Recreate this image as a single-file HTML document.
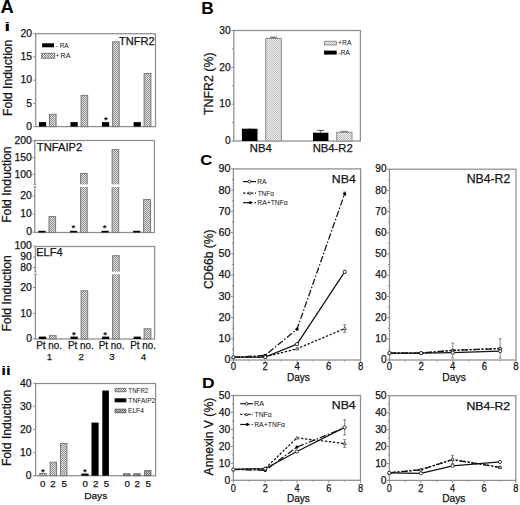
<!DOCTYPE html>
<html><head><meta charset="utf-8"><title>Figure</title>
<style>
html,body{margin:0;padding:0;background:#fff;}
body{width:520px;height:505px;overflow:hidden;}
svg{display:block;font-family:"Liberation Sans", sans-serif;}
</style></head>
<body>
<svg width="520" height="505" viewBox="0 0 520 505">
<defs>
<pattern id="pl" width="2" height="2" patternUnits="userSpaceOnUse"><rect width="2" height="2" fill="#e6e6e6"/><rect width="1" height="1" fill="#8a8a8a"/><rect x="1" y="1" width="1" height="1" fill="#8a8a8a"/></pattern>
<pattern id="pd" width="2" height="2" patternUnits="userSpaceOnUse"><rect width="2" height="2" fill="#c8c8c8"/><rect width="1" height="1" fill="#6e6e6e"/><rect x="1" y="1" width="1" height="1" fill="#6e6e6e"/></pattern>
<pattern id="pb" width="2" height="2" patternUnits="userSpaceOnUse"><rect width="2" height="2" fill="#f0f0f0"/><rect width="1" height="1" fill="#c0c0c0"/><rect x="1" y="1" width="1" height="1" fill="#c0c0c0"/></pattern>
</defs>
<rect width="520" height="505" fill="#fff"/>
<text x="0.54" y="13.2" font-size="17.73" font-weight="bold" textLength="13.24" lengthAdjust="spacingAndGlyphs" fill="#000">A</text>
<text x="4.37" y="31.1" font-size="13.39" font-weight="bold" textLength="6.07" lengthAdjust="spacingAndGlyphs" fill="#000">i</text>
<text x="1.21" y="375.2" font-size="13.66" font-weight="bold" textLength="9.51" lengthAdjust="spacingAndGlyphs" fill="#000">ii</text>
<text x="201.34" y="13.6" font-size="17.3" font-weight="bold" fill="#000">B</text>
<text x="200.22" y="165.1" font-size="14.89" font-weight="bold" textLength="12.04" lengthAdjust="spacingAndGlyphs" fill="#000">C</text>
<text x="202.03" y="388.4" font-size="15.41" font-weight="bold" textLength="12.6" lengthAdjust="spacingAndGlyphs" fill="#000">D</text>
<rect x="35.7" y="33.7" width="119.8" height="92.9" fill="none" stroke="#8e8e8e" stroke-width="1.25"/>
<text x="32.11" y="129.88" font-size="10.4" text-anchor="end" fill="#141414" stroke="#141414" stroke-width="0.25">0</text>
<line x1="33.2" y1="126.6" x2="35.7" y2="126.6" stroke="#8e8e8e" stroke-width="1"/>
<text x="32.14" y="106.6" font-size="10.4" text-anchor="end" fill="#141414" stroke="#141414" stroke-width="0.25">5</text>
<line x1="33.2" y1="103.38" x2="35.7" y2="103.38" stroke="#8e8e8e" stroke-width="1"/>
<text x="32.11" y="83.43" font-size="10.4" text-anchor="end" fill="#141414" stroke="#141414" stroke-width="0.25">10</text>
<line x1="33.2" y1="80.15" x2="35.7" y2="80.15" stroke="#8e8e8e" stroke-width="1"/>
<text x="32.14" y="60.15" font-size="10.4" text-anchor="end" fill="#141414" stroke="#141414" stroke-width="0.25">15</text>
<line x1="33.2" y1="56.92" x2="35.7" y2="56.92" stroke="#8e8e8e" stroke-width="1"/>
<text x="32.11" y="36.98" font-size="10.4" text-anchor="end" fill="#141414" stroke="#141414" stroke-width="0.25">20</text>
<line x1="33.2" y1="33.7" x2="35.7" y2="33.7" stroke="#8e8e8e" stroke-width="1"/>
<rect x="38.9" y="122.1" width="7.3" height="4.5" fill="#000"/>
<rect x="70.5" y="122.1" width="7.2" height="4.5" fill="#000"/>
<rect x="102" y="122.1" width="7.2" height="4.5" fill="#000"/>
<rect x="133.6" y="122.1" width="7.2" height="4.5" fill="#000"/>
<rect x="49.5" y="114.3" width="6.6" height="12.3" fill="url(#pl)" stroke="#7a7a7a" stroke-width="1"/>
<rect x="81.1" y="95.4" width="6.6" height="31.2" fill="url(#pl)" stroke="#7a7a7a" stroke-width="1"/>
<rect x="112.6" y="41.8" width="6.6" height="84.8" fill="url(#pl)" stroke="#7a7a7a" stroke-width="1"/>
<rect x="144.1" y="73.5" width="6.8" height="53.1" fill="url(#pl)" stroke="#7a7a7a" stroke-width="1"/>
<text x="105.8" y="123.26" font-size="9.5" text-anchor="middle" font-weight="bold" fill="#111">*</text>
<rect x="42.1" y="43.3" width="11.9" height="4" fill="#000"/>
<rect x="41.7" y="53.3" width="13" height="4.9" fill="url(#pl)" stroke="#7a7a7a" stroke-width="1"/>
<text x="55.69" y="47.5" font-size="6.9" textLength="2.32" lengthAdjust="spacingAndGlyphs" fill="#141414">-</text>
<text x="59.67" y="47.5" font-size="6.98" textLength="9.05" lengthAdjust="spacingAndGlyphs" fill="#141414">RA</text>
<text x="55.94" y="58.2" font-size="6.9" textLength="3.13" lengthAdjust="spacingAndGlyphs" fill="#141414">+</text>
<text x="60.61" y="58.2" font-size="7.12" textLength="10" lengthAdjust="spacingAndGlyphs" fill="#141414">RA</text>
<text x="118.95" y="44.5" font-size="11.6" textLength="35.6" lengthAdjust="spacingAndGlyphs" fill="#141414" stroke="#141414" stroke-width="0.25">TNFR2</text>
<text x="11.5" y="116" font-size="12.2" textLength="76.39" lengthAdjust="spacingAndGlyphs" transform="rotate(-90 11.5 116)" fill="#141414" stroke="#141414" stroke-width="0.25">Fold Induction</text>
<rect x="34.8" y="140.5" width="119.6" height="92" fill="none" stroke="#8e8e8e" stroke-width="1.25"/>
<rect x="33.3" y="184.5" width="3" height="2" fill="#fff"/>
<line x1="33.3" y1="184.3" x2="36.3" y2="184.3" stroke="#8e8e8e" stroke-width="1"/>
<line x1="33.3" y1="186.7" x2="36.3" y2="186.7" stroke="#8e8e8e" stroke-width="1"/>
<text x="31.91" y="144.18" font-size="10.4" text-anchor="end" fill="#141414" stroke="#141414" stroke-width="0.25">200</text>
<line x1="32.3" y1="140.9" x2="34.8" y2="140.9" stroke="#8e8e8e" stroke-width="1"/>
<text x="31.91" y="161.08" font-size="10.4" text-anchor="end" fill="#141414" stroke="#141414" stroke-width="0.25">150</text>
<line x1="32.3" y1="157.8" x2="34.8" y2="157.8" stroke="#8e8e8e" stroke-width="1"/>
<text x="31.91" y="177.58" font-size="10.4" text-anchor="end" fill="#141414" stroke="#141414" stroke-width="0.25">100</text>
<line x1="32.3" y1="174.3" x2="34.8" y2="174.3" stroke="#8e8e8e" stroke-width="1"/>
<text x="31.91" y="199.28" font-size="10.4" text-anchor="end" fill="#141414" stroke="#141414" stroke-width="0.25">20</text>
<line x1="32.3" y1="196" x2="34.8" y2="196" stroke="#8e8e8e" stroke-width="1"/>
<text x="31.91" y="217.38" font-size="10.4" text-anchor="end" fill="#141414" stroke="#141414" stroke-width="0.25">10</text>
<line x1="32.3" y1="214.1" x2="34.8" y2="214.1" stroke="#8e8e8e" stroke-width="1"/>
<text x="31.91" y="235.48" font-size="10.4" text-anchor="end" fill="#141414" stroke="#141414" stroke-width="0.25">0</text>
<line x1="32.3" y1="232.2" x2="34.8" y2="232.2" stroke="#8e8e8e" stroke-width="1"/>
<rect x="38.4" y="230.8" width="7.3" height="1.7" fill="#000"/>
<rect x="70" y="230.8" width="7.2" height="1.7" fill="#000"/>
<rect x="101.5" y="230.8" width="7.2" height="1.7" fill="#000"/>
<rect x="133.1" y="230.8" width="7.2" height="1.7" fill="#000"/>
<rect x="49" y="216.5" width="6.6" height="16" fill="url(#pl)" stroke="#7a7a7a" stroke-width="1"/>
<rect x="80.6" y="173.5" width="6.6" height="59" fill="url(#pl)" stroke="#7a7a7a" stroke-width="1"/>
<rect x="112.1" y="149.6" width="6.6" height="82.9" fill="url(#pl)" stroke="#7a7a7a" stroke-width="1"/>
<rect x="143.6" y="199.5" width="6.8" height="33" fill="url(#pl)" stroke="#7a7a7a" stroke-width="1"/>
<rect x="79.1" y="184.4" width="10.1" height="2.5" fill="#fff"/>
<rect x="110.6" y="184.4" width="10.1" height="2.5" fill="#fff"/>
<text x="73.4" y="231.46" font-size="9.5" text-anchor="middle" font-weight="bold" fill="#111">*</text>
<text x="104.7" y="231.46" font-size="9.5" text-anchor="middle" font-weight="bold" fill="#111">*</text>
<text x="36.85" y="150.6" font-size="10.74" textLength="45.3" lengthAdjust="spacingAndGlyphs" fill="#141414" stroke="#141414" stroke-width="0.25">TNFAIP2</text>
<text x="11.4" y="222.8" font-size="12.2" textLength="76.39" lengthAdjust="spacingAndGlyphs" transform="rotate(-90 11.4 222.8)" fill="#141414" stroke="#141414" stroke-width="0.25">Fold Induction</text>
<rect x="35.4" y="246.5" width="119.2" height="92.5" fill="none" stroke="#8e8e8e" stroke-width="1.25"/>
<rect x="33.9" y="272.1" width="3" height="2" fill="#fff"/>
<line x1="33.9" y1="271.9" x2="36.9" y2="271.9" stroke="#8e8e8e" stroke-width="1"/>
<line x1="33.9" y1="274.3" x2="36.9" y2="274.3" stroke="#8e8e8e" stroke-width="1"/>
<text x="31.91" y="249.28" font-size="10.4" text-anchor="end" fill="#141414" stroke="#141414" stroke-width="0.25">100</text>
<line x1="32.9" y1="246" x2="35.4" y2="246" stroke="#8e8e8e" stroke-width="1"/>
<text x="31.91" y="260.38" font-size="10.4" text-anchor="end" fill="#141414" stroke="#141414" stroke-width="0.25">90</text>
<line x1="32.9" y1="257.1" x2="35.4" y2="257.1" stroke="#8e8e8e" stroke-width="1"/>
<text x="31.91" y="270.78" font-size="10.4" text-anchor="end" fill="#141414" stroke="#141414" stroke-width="0.25">80</text>
<line x1="32.9" y1="267.5" x2="35.4" y2="267.5" stroke="#8e8e8e" stroke-width="1"/>
<text x="31.91" y="290.78" font-size="10.4" text-anchor="end" fill="#141414" stroke="#141414" stroke-width="0.25">20</text>
<line x1="32.9" y1="287.5" x2="35.4" y2="287.5" stroke="#8e8e8e" stroke-width="1"/>
<text x="31.91" y="316.68" font-size="10.4" text-anchor="end" fill="#141414" stroke="#141414" stroke-width="0.25">10</text>
<line x1="32.9" y1="313.4" x2="35.4" y2="313.4" stroke="#8e8e8e" stroke-width="1"/>
<text x="31.91" y="342.08" font-size="10.4" text-anchor="end" fill="#141414" stroke="#141414" stroke-width="0.25">0</text>
<line x1="32.9" y1="338.8" x2="35.4" y2="338.8" stroke="#8e8e8e" stroke-width="1"/>
<rect x="38.9" y="336.6" width="7.3" height="2.4" fill="#000"/>
<rect x="70.5" y="336.6" width="7.2" height="2.4" fill="#000"/>
<rect x="102" y="336.6" width="7.2" height="2.4" fill="#000"/>
<rect x="133.6" y="336.6" width="7.2" height="2.4" fill="#000"/>
<rect x="49.5" y="335.6" width="6.6" height="3.4" fill="url(#pl)" stroke="#7a7a7a" stroke-width="1"/>
<rect x="81.1" y="290.8" width="6.6" height="48.2" fill="url(#pl)" stroke="#7a7a7a" stroke-width="1"/>
<rect x="112.6" y="255.7" width="6.6" height="83.3" fill="url(#pl)" stroke="#7a7a7a" stroke-width="1"/>
<rect x="144.1" y="328.8" width="6.8" height="10.2" fill="url(#pl)" stroke="#7a7a7a" stroke-width="1"/>
<rect x="111.1" y="271.6" width="9.6" height="2.7" fill="#fff"/>
<text x="73.9" y="337.56" font-size="9.5" text-anchor="middle" font-weight="bold" fill="#111">*</text>
<text x="105.2" y="337.56" font-size="9.5" text-anchor="middle" font-weight="bold" fill="#111">*</text>
<text x="36.19" y="255.7" font-size="10.76" textLength="26.43" lengthAdjust="spacingAndGlyphs" fill="#141414" stroke="#141414" stroke-width="0.25">ELF4</text>
<text x="11.1" y="331.6" font-size="12.2" textLength="76.39" lengthAdjust="spacingAndGlyphs" transform="rotate(-90 11.1 331.6)" fill="#141414" stroke="#141414" stroke-width="0.25">Fold Induction</text>
<text x="36.29" y="349" font-size="10.17" textLength="25.71" lengthAdjust="spacingAndGlyphs" fill="#141414" stroke="#141414" stroke-width="0.25">Pt no.</text>
<text x="49.37" y="360" font-size="9.7" text-anchor="middle" fill="#141414" stroke="#141414" stroke-width="0.25">1</text>
<text x="67.99" y="349" font-size="10.17" textLength="25.71" lengthAdjust="spacingAndGlyphs" fill="#141414" stroke="#141414" stroke-width="0.25">Pt no.</text>
<text x="81.2" y="360" font-size="9.7" text-anchor="middle" fill="#141414" stroke="#141414" stroke-width="0.25">2</text>
<text x="98.79" y="349" font-size="10.17" textLength="25.71" lengthAdjust="spacingAndGlyphs" fill="#141414" stroke="#141414" stroke-width="0.25">Pt no.</text>
<text x="112.03" y="360" font-size="9.7" text-anchor="middle" fill="#141414" stroke="#141414" stroke-width="0.25">3</text>
<text x="130.29" y="349" font-size="10.17" textLength="25.71" lengthAdjust="spacingAndGlyphs" fill="#141414" stroke="#141414" stroke-width="0.25">Pt no.</text>
<text x="143.53" y="360" font-size="9.7" text-anchor="middle" fill="#141414" stroke="#141414" stroke-width="0.25">4</text>
<rect x="35.6" y="383.5" width="120" height="92.2" fill="none" stroke="#8e8e8e" stroke-width="1.25"/>
<text x="31.61" y="478.98" font-size="10.4" text-anchor="end" fill="#141414" stroke="#141414" stroke-width="0.25">0</text>
<line x1="33.1" y1="475.7" x2="35.6" y2="475.7" stroke="#8e8e8e" stroke-width="1"/>
<text x="31.61" y="455.88" font-size="10.4" text-anchor="end" fill="#141414" stroke="#141414" stroke-width="0.25">10</text>
<line x1="33.1" y1="452.6" x2="35.6" y2="452.6" stroke="#8e8e8e" stroke-width="1"/>
<text x="31.61" y="432.78" font-size="10.4" text-anchor="end" fill="#141414" stroke="#141414" stroke-width="0.25">20</text>
<line x1="33.1" y1="429.5" x2="35.6" y2="429.5" stroke="#8e8e8e" stroke-width="1"/>
<text x="31.61" y="409.68" font-size="10.4" text-anchor="end" fill="#141414" stroke="#141414" stroke-width="0.25">30</text>
<line x1="33.1" y1="406.4" x2="35.6" y2="406.4" stroke="#8e8e8e" stroke-width="1"/>
<text x="31.61" y="386.58" font-size="10.4" text-anchor="end" fill="#141414" stroke="#141414" stroke-width="0.25">40</text>
<line x1="33.1" y1="383.3" x2="35.6" y2="383.3" stroke="#8e8e8e" stroke-width="1"/>
<rect x="39.8" y="473.5" width="6.5" height="2.2" fill="url(#pl)" stroke="#7a7a7a" stroke-width="1"/>
<rect x="50.1" y="462.2" width="6.4" height="13.5" fill="url(#pl)" stroke="#7a7a7a" stroke-width="1"/>
<rect x="60.5" y="443.5" width="6.4" height="32.2" fill="url(#pl)" stroke="#7a7a7a" stroke-width="1"/>
<rect x="81.3" y="473.6" width="7.3" height="2.1" fill="#000"/>
<rect x="91.5" y="422.6" width="7.1" height="53.1" fill="#000"/>
<rect x="102.3" y="390.5" width="6.6" height="85.2" fill="#000"/>
<rect x="123.6" y="473.8" width="6.4" height="1.9" fill="url(#pd)" stroke="#606060" stroke-width="1"/>
<rect x="133.7" y="473.8" width="6.4" height="1.9" fill="url(#pd)" stroke="#606060" stroke-width="1"/>
<rect x="144.7" y="470.7" width="6.2" height="5" fill="url(#pd)" stroke="#606060" stroke-width="1"/>
<text x="42.9" y="475.16" font-size="9.5" text-anchor="middle" font-weight="bold" fill="#111">*</text>
<text x="84.9" y="475.16" font-size="9.5" text-anchor="middle" font-weight="bold" fill="#111">*</text>
<text x="42.8" y="486.9" font-size="9.7" text-anchor="middle" fill="#141414" stroke="#141414" stroke-width="0.25">0</text>
<text x="53" y="486.9" font-size="9.7" text-anchor="middle" fill="#141414" stroke="#141414" stroke-width="0.25">2</text>
<text x="64.21" y="486.9" font-size="9.7" text-anchor="middle" fill="#141414" stroke="#141414" stroke-width="0.25">5</text>
<text x="85.1" y="486.9" font-size="9.7" text-anchor="middle" fill="#141414" stroke="#141414" stroke-width="0.25">0</text>
<text x="95.6" y="486.9" font-size="9.7" text-anchor="middle" fill="#141414" stroke="#141414" stroke-width="0.25">2</text>
<text x="106.51" y="486.9" font-size="9.7" text-anchor="middle" fill="#141414" stroke="#141414" stroke-width="0.25">5</text>
<text x="127.3" y="486.9" font-size="9.7" text-anchor="middle" fill="#141414" stroke="#141414" stroke-width="0.25">0</text>
<text x="137.1" y="486.9" font-size="9.7" text-anchor="middle" fill="#141414" stroke="#141414" stroke-width="0.25">2</text>
<text x="148.21" y="486.9" font-size="9.7" text-anchor="middle" fill="#141414" stroke="#141414" stroke-width="0.25">5</text>
<text x="84.17" y="498.8" font-size="9.88" textLength="23.1" lengthAdjust="spacingAndGlyphs" fill="#141414" stroke="#141414" stroke-width="0.25">Days</text>
<rect x="115.1" y="388.4" width="10.7" height="3.3" fill="url(#pl)" stroke="#7a7a7a" stroke-width="1"/>
<rect x="114.6" y="398.3" width="11.7" height="4" fill="#000"/>
<rect x="115.1" y="409.2" width="10.7" height="3.5" fill="url(#pd)" stroke="#606060" stroke-width="1"/>
<text x="128.36" y="392.6" font-size="6.87" textLength="19.95" lengthAdjust="spacingAndGlyphs" fill="#141414">TNFR2</text>
<text x="128.35" y="402.9" font-size="6.87" textLength="26.98" lengthAdjust="spacingAndGlyphs" fill="#141414">TNFAIP2</text>
<text x="127.95" y="413.2" font-size="6.83" textLength="15.94" lengthAdjust="spacingAndGlyphs" fill="#141414">ELF4</text>
<text x="11.1" y="466.1" font-size="12.2" textLength="76.39" lengthAdjust="spacingAndGlyphs" transform="rotate(-90 11.1 466.1)" fill="#141414" stroke="#141414" stroke-width="0.25">Fold Induction</text>
<rect x="233.8" y="30.5" width="126.6" height="110.5" fill="none" stroke="#8e8e8e" stroke-width="1.25"/>
<text x="230.6" y="144.21" font-size="10.2" text-anchor="end" fill="#141414" stroke="#141414" stroke-width="0.25">0</text>
<line x1="231.3" y1="141" x2="233.8" y2="141" stroke="#8e8e8e" stroke-width="1"/>
<text x="230.6" y="107.38" font-size="10.2" text-anchor="end" fill="#141414" stroke="#141414" stroke-width="0.25">10</text>
<line x1="231.3" y1="104.17" x2="233.8" y2="104.17" stroke="#8e8e8e" stroke-width="1"/>
<text x="230.6" y="70.54" font-size="10.2" text-anchor="end" fill="#141414" stroke="#141414" stroke-width="0.25">20</text>
<line x1="231.3" y1="67.33" x2="233.8" y2="67.33" stroke="#8e8e8e" stroke-width="1"/>
<text x="230.6" y="33.71" font-size="10.2" text-anchor="end" fill="#141414" stroke="#141414" stroke-width="0.25">30</text>
<line x1="231.3" y1="30.5" x2="233.8" y2="30.5" stroke="#8e8e8e" stroke-width="1"/>
<line x1="232" y1="122.58" x2="233.8" y2="122.58" stroke="#8e8e8e" stroke-width="1"/>
<line x1="232" y1="85.75" x2="233.8" y2="85.75" stroke="#8e8e8e" stroke-width="1"/>
<line x1="232" y1="48.92" x2="233.8" y2="48.92" stroke="#8e8e8e" stroke-width="1"/>
<rect x="241.9" y="128.7" width="15.6" height="12.3" fill="#000"/>
<line x1="249.7" y1="127.9" x2="249.7" y2="128.8" stroke="#222" stroke-width="1"/>
<rect x="265.7" y="38.5" width="15.7" height="102.5" fill="url(#pb)" stroke="#8c8c8c" stroke-width="1"/>
<line x1="270" y1="37.2" x2="277.4" y2="37.2" stroke="#555" stroke-width="1"/>
<line x1="273.7" y1="37.2" x2="273.7" y2="38.6" stroke="#555" stroke-width="1"/>
<rect x="313" y="132.7" width="15.4" height="8.3" fill="#000"/>
<line x1="320.7" y1="130.4" x2="320.7" y2="132.8" stroke="#555" stroke-width="1"/>
<line x1="317.4" y1="130.4" x2="324" y2="130.4" stroke="#555" stroke-width="1"/>
<rect x="336.7" y="132.4" width="15.3" height="8.6" fill="url(#pb)" stroke="#8c8c8c" stroke-width="1"/>
<line x1="340.5" y1="131.4" x2="348.2" y2="131.4" stroke="#777" stroke-width="1"/>
<rect x="324.5" y="41.3" width="11.8" height="3.6" fill="url(#pb)" stroke="#8c8c8c" stroke-width="1"/>
<rect x="324" y="50.6" width="12.7" height="4" fill="#000"/>
<text x="338.07" y="45.4" font-size="6.98" textLength="13.34" lengthAdjust="spacingAndGlyphs" fill="#141414">+RA</text>
<text x="338.09" y="55.1" font-size="6.98" textLength="11.92" lengthAdjust="spacingAndGlyphs" fill="#141414">-RA</text>
<text x="249.87" y="151.8" font-size="11.63" textLength="21.96" lengthAdjust="spacingAndGlyphs" fill="#141414" stroke="#141414" stroke-width="0.25">NB4</text>
<text x="312.68" y="151.5" font-size="10.74" textLength="40.09" lengthAdjust="spacingAndGlyphs" fill="#141414" stroke="#141414" stroke-width="0.25">NB4-R2</text>
<text x="212.6" y="115.08" font-size="12.2" textLength="62.65" lengthAdjust="spacingAndGlyphs" transform="rotate(-90 212.6 115.08)" fill="#141414" stroke="#141414" stroke-width="0.25">TNFR2 (%)</text>
<rect x="233.4" y="168.9" width="127.2" height="191.1" fill="none" stroke="#8e8e8e" stroke-width="1.25"/>
<text x="230.42" y="363.42" font-size="10.8" text-anchor="end" fill="#141414" stroke="#141414" stroke-width="0.25">0</text>
<line x1="230.9" y1="360" x2="233.4" y2="360" stroke="#8e8e8e" stroke-width="1"/>
<text x="230.42" y="342.18" font-size="10.8" text-anchor="end" fill="#141414" stroke="#141414" stroke-width="0.25">10</text>
<line x1="230.9" y1="338.77" x2="233.4" y2="338.77" stroke="#8e8e8e" stroke-width="1"/>
<text x="230.42" y="320.95" font-size="10.8" text-anchor="end" fill="#141414" stroke="#141414" stroke-width="0.25">20</text>
<line x1="230.9" y1="317.53" x2="233.4" y2="317.53" stroke="#8e8e8e" stroke-width="1"/>
<text x="230.42" y="299.72" font-size="10.8" text-anchor="end" fill="#141414" stroke="#141414" stroke-width="0.25">30</text>
<line x1="230.9" y1="296.3" x2="233.4" y2="296.3" stroke="#8e8e8e" stroke-width="1"/>
<text x="230.42" y="278.48" font-size="10.8" text-anchor="end" fill="#141414" stroke="#141414" stroke-width="0.25">40</text>
<line x1="230.9" y1="275.07" x2="233.4" y2="275.07" stroke="#8e8e8e" stroke-width="1"/>
<text x="230.42" y="257.25" font-size="10.8" text-anchor="end" fill="#141414" stroke="#141414" stroke-width="0.25">50</text>
<line x1="230.9" y1="253.83" x2="233.4" y2="253.83" stroke="#8e8e8e" stroke-width="1"/>
<text x="230.42" y="236.02" font-size="10.8" text-anchor="end" fill="#141414" stroke="#141414" stroke-width="0.25">60</text>
<line x1="230.9" y1="232.6" x2="233.4" y2="232.6" stroke="#8e8e8e" stroke-width="1"/>
<text x="230.42" y="214.78" font-size="10.8" text-anchor="end" fill="#141414" stroke="#141414" stroke-width="0.25">70</text>
<line x1="230.9" y1="211.37" x2="233.4" y2="211.37" stroke="#8e8e8e" stroke-width="1"/>
<text x="230.42" y="193.55" font-size="10.8" text-anchor="end" fill="#141414" stroke="#141414" stroke-width="0.25">80</text>
<line x1="230.9" y1="190.13" x2="233.4" y2="190.13" stroke="#8e8e8e" stroke-width="1"/>
<text x="230.42" y="172.32" font-size="10.8" text-anchor="end" fill="#141414" stroke="#141414" stroke-width="0.25">90</text>
<line x1="230.9" y1="168.9" x2="233.4" y2="168.9" stroke="#8e8e8e" stroke-width="1"/>
<line x1="231.9" y1="349.38" x2="233.4" y2="349.38" stroke="#8e8e8e" stroke-width="1"/>
<line x1="231.9" y1="328.15" x2="233.4" y2="328.15" stroke="#8e8e8e" stroke-width="1"/>
<line x1="231.9" y1="306.92" x2="233.4" y2="306.92" stroke="#8e8e8e" stroke-width="1"/>
<line x1="231.9" y1="285.68" x2="233.4" y2="285.68" stroke="#8e8e8e" stroke-width="1"/>
<line x1="231.9" y1="264.45" x2="233.4" y2="264.45" stroke="#8e8e8e" stroke-width="1"/>
<line x1="231.9" y1="243.22" x2="233.4" y2="243.22" stroke="#8e8e8e" stroke-width="1"/>
<line x1="231.9" y1="221.98" x2="233.4" y2="221.98" stroke="#8e8e8e" stroke-width="1"/>
<line x1="231.9" y1="200.75" x2="233.4" y2="200.75" stroke="#8e8e8e" stroke-width="1"/>
<line x1="231.9" y1="179.52" x2="233.4" y2="179.52" stroke="#8e8e8e" stroke-width="1"/>
<line x1="233.4" y1="360" x2="233.4" y2="362.5" stroke="#8e8e8e" stroke-width="1"/>
<text x="230.75" y="370.1" font-size="10.7" textLength="5.3" lengthAdjust="spacingAndGlyphs" fill="#141414" stroke="#141414" stroke-width="0.25">0</text>
<line x1="249.3" y1="360" x2="249.3" y2="361.5" stroke="#8e8e8e" stroke-width="1"/>
<line x1="265.2" y1="360" x2="265.2" y2="362.5" stroke="#8e8e8e" stroke-width="1"/>
<text x="262.55" y="370.1" font-size="10.7" textLength="5.3" lengthAdjust="spacingAndGlyphs" fill="#141414" stroke="#141414" stroke-width="0.25">2</text>
<line x1="281.1" y1="360" x2="281.1" y2="361.5" stroke="#8e8e8e" stroke-width="1"/>
<line x1="297" y1="360" x2="297" y2="362.5" stroke="#8e8e8e" stroke-width="1"/>
<text x="294.38" y="370.1" font-size="10.7" textLength="5.3" lengthAdjust="spacingAndGlyphs" fill="#141414" stroke="#141414" stroke-width="0.25">4</text>
<line x1="312.9" y1="360" x2="312.9" y2="361.5" stroke="#8e8e8e" stroke-width="1"/>
<line x1="328.8" y1="360" x2="328.8" y2="362.5" stroke="#8e8e8e" stroke-width="1"/>
<text x="326.12" y="370.1" font-size="10.7" textLength="5.3" lengthAdjust="spacingAndGlyphs" fill="#141414" stroke="#141414" stroke-width="0.25">6</text>
<line x1="344.7" y1="360" x2="344.7" y2="361.5" stroke="#8e8e8e" stroke-width="1"/>
<line x1="360.6" y1="360" x2="360.6" y2="362.5" stroke="#8e8e8e" stroke-width="1"/>
<text x="357.95" y="370.1" font-size="10.7" textLength="5.3" lengthAdjust="spacingAndGlyphs" fill="#141414" stroke="#141414" stroke-width="0.25">8</text>
<polyline points="233.4,357.24 265.2,355.33 297,329.21 344.7,193.74" fill="none" stroke="#111" stroke-width="1.25" stroke-linejoin="round" stroke-dasharray="6.5,2,1.5,2"/>
<line x1="344.7" y1="192.04" x2="344.7" y2="195.44" stroke="#666" stroke-width="0.8"/>
<line x1="343.2" y1="192.04" x2="346.2" y2="192.04" stroke="#666" stroke-width="0.8"/>
<line x1="343.2" y1="195.44" x2="346.2" y2="195.44" stroke="#666" stroke-width="0.8"/>
<circle cx="233.4" cy="357.24" r="1.6" fill="#000"/>
<circle cx="265.2" cy="355.33" r="1.6" fill="#000"/>
<circle cx="297" cy="329.21" r="1.6" fill="#000"/>
<circle cx="344.7" cy="193.74" r="1.6" fill="#000"/>
<polyline points="233.4,357.24 265.2,356.81 297,348.75 344.7,328.57" fill="none" stroke="#111" stroke-width="1.25" stroke-linejoin="round" stroke-dasharray="2.4,1.6"/>
<line x1="344.7" y1="324.75" x2="344.7" y2="332.4" stroke="#666" stroke-width="0.8"/>
<line x1="343.2" y1="324.75" x2="346.2" y2="324.75" stroke="#666" stroke-width="0.8"/>
<line x1="343.2" y1="332.4" x2="346.2" y2="332.4" stroke="#666" stroke-width="0.8"/>
<path d="M231.8,358.44 L233.4,355.64 L235,358.44 Z" fill="#fff" stroke="#333" stroke-width="0.8"/>
<path d="M263.6,358.01 L265.2,355.21 L266.8,358.01 Z" fill="#fff" stroke="#333" stroke-width="0.8"/>
<path d="M295.4,349.95 L297,347.15 L298.6,349.95 Z" fill="#fff" stroke="#333" stroke-width="0.8"/>
<path d="M343.1,329.77 L344.7,326.97 L346.3,329.77 Z" fill="#fff" stroke="#333" stroke-width="0.8"/>
<polyline points="233.4,357.24 265.2,357.03 297,344.07 344.7,271.88" fill="none" stroke="#111" stroke-width="1.25" stroke-linejoin="round"/>
<line x1="344.7" y1="270.18" x2="344.7" y2="273.58" stroke="#666" stroke-width="0.8"/>
<line x1="343.2" y1="270.18" x2="346.2" y2="270.18" stroke="#666" stroke-width="0.8"/>
<line x1="343.2" y1="273.58" x2="346.2" y2="273.58" stroke="#666" stroke-width="0.8"/>
<circle cx="233.4" cy="357.24" r="1.6" fill="#fff" stroke="#222" stroke-width="0.9"/>
<circle cx="265.2" cy="357.03" r="1.6" fill="#fff" stroke="#222" stroke-width="0.9"/>
<circle cx="297" cy="344.07" r="1.6" fill="#fff" stroke="#222" stroke-width="0.9"/>
<circle cx="344.7" cy="271.88" r="1.6" fill="#fff" stroke="#222" stroke-width="0.9"/>
<text x="331.89" y="182.6" font-size="11.63" textLength="23.87" lengthAdjust="spacingAndGlyphs" fill="#141414" stroke="#141414" stroke-width="0.25">NB4</text>
<text x="286.98" y="380.5" font-size="10.47" textLength="22.78" lengthAdjust="spacingAndGlyphs" fill="#141414" stroke="#141414" stroke-width="0.25">Days</text>
<line x1="243" y1="181.6" x2="256" y2="181.6" stroke="#111" stroke-width="1.2"/>
<circle cx="249.5" cy="181.6" r="1.4" fill="#fff" stroke="#222" stroke-width="0.9"/>
<text x="257.25" y="183.9" font-size="6.9" textLength="9.37" lengthAdjust="spacingAndGlyphs" fill="#141414">RA</text>
<line x1="243" y1="193.1" x2="256" y2="193.1" stroke="#111" stroke-width="1.2" stroke-dasharray="2.4,1.6"/>
<path d="M248.1,194.15 L249.5,191.7 L250.9,194.15 Z" fill="#fff" stroke="#333" stroke-width="0.8"/>
<text x="257.65" y="195.8" font-size="6.9" textLength="16.33" lengthAdjust="spacingAndGlyphs" fill="#141414">TNF&#945;</text>
<line x1="243" y1="202.7" x2="252.5" y2="202.7" stroke="#111" stroke-width="1.2"/>
<line x1="254.5" y1="202.7" x2="256" y2="202.7" stroke="#111" stroke-width="1.2"/>
<circle cx="250.3" cy="202.7" r="1.4" fill="#000"/>
<text x="257.24" y="204.9" font-size="6.9" textLength="30.55" lengthAdjust="spacingAndGlyphs" fill="#141414">RA+TNF&#945;</text>
<text x="212.6" y="289.11" font-size="12.2" textLength="59.76" lengthAdjust="spacingAndGlyphs" transform="rotate(-90 212.6 289.11)" fill="#141414" stroke="#141414" stroke-width="0.25">CD66b (%)</text>
<rect x="389.5" y="169.2" width="126.5" height="190.8" fill="none" stroke="#8e8e8e" stroke-width="1.25"/>
<text x="386.59" y="363.18" font-size="10.1" text-anchor="end" fill="#141414" stroke="#141414" stroke-width="0.25">0</text>
<line x1="387" y1="360" x2="389.5" y2="360" stroke="#8e8e8e" stroke-width="1"/>
<text x="386.59" y="341.98" font-size="10.1" text-anchor="end" fill="#141414" stroke="#141414" stroke-width="0.25">10</text>
<line x1="387" y1="338.8" x2="389.5" y2="338.8" stroke="#8e8e8e" stroke-width="1"/>
<text x="386.59" y="320.78" font-size="10.1" text-anchor="end" fill="#141414" stroke="#141414" stroke-width="0.25">20</text>
<line x1="387" y1="317.6" x2="389.5" y2="317.6" stroke="#8e8e8e" stroke-width="1"/>
<text x="386.59" y="299.58" font-size="10.1" text-anchor="end" fill="#141414" stroke="#141414" stroke-width="0.25">30</text>
<line x1="387" y1="296.4" x2="389.5" y2="296.4" stroke="#8e8e8e" stroke-width="1"/>
<text x="386.59" y="278.38" font-size="10.1" text-anchor="end" fill="#141414" stroke="#141414" stroke-width="0.25">40</text>
<line x1="387" y1="275.2" x2="389.5" y2="275.2" stroke="#8e8e8e" stroke-width="1"/>
<text x="386.59" y="257.18" font-size="10.1" text-anchor="end" fill="#141414" stroke="#141414" stroke-width="0.25">50</text>
<line x1="387" y1="254" x2="389.5" y2="254" stroke="#8e8e8e" stroke-width="1"/>
<text x="386.59" y="235.98" font-size="10.1" text-anchor="end" fill="#141414" stroke="#141414" stroke-width="0.25">60</text>
<line x1="387" y1="232.8" x2="389.5" y2="232.8" stroke="#8e8e8e" stroke-width="1"/>
<text x="386.59" y="214.78" font-size="10.1" text-anchor="end" fill="#141414" stroke="#141414" stroke-width="0.25">70</text>
<line x1="387" y1="211.6" x2="389.5" y2="211.6" stroke="#8e8e8e" stroke-width="1"/>
<text x="386.59" y="193.58" font-size="10.1" text-anchor="end" fill="#141414" stroke="#141414" stroke-width="0.25">80</text>
<line x1="387" y1="190.4" x2="389.5" y2="190.4" stroke="#8e8e8e" stroke-width="1"/>
<text x="386.59" y="172.38" font-size="10.1" text-anchor="end" fill="#141414" stroke="#141414" stroke-width="0.25">90</text>
<line x1="387" y1="169.2" x2="389.5" y2="169.2" stroke="#8e8e8e" stroke-width="1"/>
<line x1="388" y1="349.4" x2="389.5" y2="349.4" stroke="#8e8e8e" stroke-width="1"/>
<line x1="388" y1="328.2" x2="389.5" y2="328.2" stroke="#8e8e8e" stroke-width="1"/>
<line x1="388" y1="307" x2="389.5" y2="307" stroke="#8e8e8e" stroke-width="1"/>
<line x1="388" y1="285.8" x2="389.5" y2="285.8" stroke="#8e8e8e" stroke-width="1"/>
<line x1="388" y1="264.6" x2="389.5" y2="264.6" stroke="#8e8e8e" stroke-width="1"/>
<line x1="388" y1="243.4" x2="389.5" y2="243.4" stroke="#8e8e8e" stroke-width="1"/>
<line x1="388" y1="222.2" x2="389.5" y2="222.2" stroke="#8e8e8e" stroke-width="1"/>
<line x1="388" y1="201" x2="389.5" y2="201" stroke="#8e8e8e" stroke-width="1"/>
<line x1="388" y1="179.8" x2="389.5" y2="179.8" stroke="#8e8e8e" stroke-width="1"/>
<line x1="389.5" y1="360" x2="389.5" y2="362.5" stroke="#8e8e8e" stroke-width="1"/>
<text x="386.85" y="370.1" font-size="10.7" textLength="5.3" lengthAdjust="spacingAndGlyphs" fill="#141414" stroke="#141414" stroke-width="0.25">0</text>
<line x1="405.31" y1="360" x2="405.31" y2="361.5" stroke="#8e8e8e" stroke-width="1"/>
<line x1="421.12" y1="360" x2="421.12" y2="362.5" stroke="#8e8e8e" stroke-width="1"/>
<text x="418.47" y="370.1" font-size="10.7" textLength="5.3" lengthAdjust="spacingAndGlyphs" fill="#141414" stroke="#141414" stroke-width="0.25">2</text>
<line x1="436.93" y1="360" x2="436.93" y2="361.5" stroke="#8e8e8e" stroke-width="1"/>
<line x1="452.74" y1="360" x2="452.74" y2="362.5" stroke="#8e8e8e" stroke-width="1"/>
<text x="450.12" y="370.1" font-size="10.7" textLength="5.3" lengthAdjust="spacingAndGlyphs" fill="#141414" stroke="#141414" stroke-width="0.25">4</text>
<line x1="468.55" y1="360" x2="468.55" y2="361.5" stroke="#8e8e8e" stroke-width="1"/>
<line x1="484.36" y1="360" x2="484.36" y2="362.5" stroke="#8e8e8e" stroke-width="1"/>
<text x="481.68" y="370.1" font-size="10.7" textLength="5.3" lengthAdjust="spacingAndGlyphs" fill="#141414" stroke="#141414" stroke-width="0.25">6</text>
<line x1="500.17" y1="360" x2="500.17" y2="361.5" stroke="#8e8e8e" stroke-width="1"/>
<line x1="515.98" y1="360" x2="515.98" y2="362.5" stroke="#8e8e8e" stroke-width="1"/>
<text x="513.33" y="370.1" font-size="10.7" textLength="5.3" lengthAdjust="spacingAndGlyphs" fill="#141414" stroke="#141414" stroke-width="0.25">8</text>
<polyline points="389.5,353 421.12,353 452.74,350.25 500.17,348.76" fill="none" stroke="#111" stroke-width="1.25" stroke-linejoin="round" stroke-dasharray="6.5,2,1.5,2"/>
<circle cx="389.5" cy="353" r="1.6" fill="#000"/>
<circle cx="421.12" cy="353" r="1.6" fill="#000"/>
<circle cx="452.74" cy="350.25" r="1.6" fill="#000"/>
<circle cx="500.17" cy="348.76" r="1.6" fill="#000"/>
<polyline points="389.5,353 421.12,353 452.74,350.46 500.17,348.34" fill="none" stroke="#111" stroke-width="1.25" stroke-linejoin="round" stroke-dasharray="2.4,1.6"/>
<line x1="452.74" y1="343.04" x2="452.74" y2="357.88" stroke="#666" stroke-width="0.8"/>
<line x1="451.24" y1="343.04" x2="454.24" y2="343.04" stroke="#666" stroke-width="0.8"/>
<line x1="451.24" y1="357.88" x2="454.24" y2="357.88" stroke="#666" stroke-width="0.8"/>
<line x1="500.17" y1="338.8" x2="500.17" y2="357.88" stroke="#666" stroke-width="0.8"/>
<line x1="498.67" y1="338.8" x2="501.67" y2="338.8" stroke="#666" stroke-width="0.8"/>
<line x1="498.67" y1="357.88" x2="501.67" y2="357.88" stroke="#666" stroke-width="0.8"/>
<path d="M387.9,354.2 L389.5,351.4 L391.1,354.2 Z" fill="#fff" stroke="#333" stroke-width="0.8"/>
<path d="M419.52,354.2 L421.12,351.4 L422.72,354.2 Z" fill="#fff" stroke="#333" stroke-width="0.8"/>
<path d="M451.14,351.66 L452.74,348.86 L454.34,351.66 Z" fill="#fff" stroke="#333" stroke-width="0.8"/>
<path d="M498.57,349.54 L500.17,346.74 L501.77,349.54 Z" fill="#fff" stroke="#333" stroke-width="0.8"/>
<polyline points="389.5,353 421.12,353 452.74,352.58 500.17,351.1" fill="none" stroke="#111" stroke-width="1.25" stroke-linejoin="round"/>
<circle cx="389.5" cy="353" r="1.6" fill="#fff" stroke="#222" stroke-width="0.9"/>
<circle cx="421.12" cy="353" r="1.6" fill="#fff" stroke="#222" stroke-width="0.9"/>
<circle cx="452.74" cy="352.58" r="1.6" fill="#fff" stroke="#222" stroke-width="0.9"/>
<circle cx="500.17" cy="351.1" r="1.6" fill="#fff" stroke="#222" stroke-width="0.9"/>
<text x="466.69" y="183" font-size="12.03" textLength="43.62" lengthAdjust="spacingAndGlyphs" fill="#141414" stroke="#141414" stroke-width="0.25">NB4-R2</text>
<text x="442.36" y="380.6" font-size="10.47" textLength="23.41" lengthAdjust="spacingAndGlyphs" fill="#141414" stroke="#141414" stroke-width="0.25">Days</text>
<rect x="233.4" y="395.5" width="127.1" height="84.8" fill="none" stroke="#8e8e8e" stroke-width="1.25"/>
<text x="230.3" y="483.55" font-size="10.3" text-anchor="end" fill="#141414" stroke="#141414" stroke-width="0.25">0</text>
<line x1="230.9" y1="480.3" x2="233.4" y2="480.3" stroke="#8e8e8e" stroke-width="1"/>
<text x="230.3" y="466.59" font-size="10.3" text-anchor="end" fill="#141414" stroke="#141414" stroke-width="0.25">10</text>
<line x1="230.9" y1="463.34" x2="233.4" y2="463.34" stroke="#8e8e8e" stroke-width="1"/>
<text x="230.3" y="449.63" font-size="10.3" text-anchor="end" fill="#141414" stroke="#141414" stroke-width="0.25">20</text>
<line x1="230.9" y1="446.38" x2="233.4" y2="446.38" stroke="#8e8e8e" stroke-width="1"/>
<text x="230.3" y="432.67" font-size="10.3" text-anchor="end" fill="#141414" stroke="#141414" stroke-width="0.25">30</text>
<line x1="230.9" y1="429.42" x2="233.4" y2="429.42" stroke="#8e8e8e" stroke-width="1"/>
<text x="230.3" y="415.71" font-size="10.3" text-anchor="end" fill="#141414" stroke="#141414" stroke-width="0.25">40</text>
<line x1="230.9" y1="412.46" x2="233.4" y2="412.46" stroke="#8e8e8e" stroke-width="1"/>
<text x="230.3" y="398.75" font-size="10.3" text-anchor="end" fill="#141414" stroke="#141414" stroke-width="0.25">50</text>
<line x1="230.9" y1="395.5" x2="233.4" y2="395.5" stroke="#8e8e8e" stroke-width="1"/>
<line x1="231.9" y1="471.82" x2="233.4" y2="471.82" stroke="#8e8e8e" stroke-width="1"/>
<line x1="231.9" y1="454.86" x2="233.4" y2="454.86" stroke="#8e8e8e" stroke-width="1"/>
<line x1="231.9" y1="437.9" x2="233.4" y2="437.9" stroke="#8e8e8e" stroke-width="1"/>
<line x1="231.9" y1="420.94" x2="233.4" y2="420.94" stroke="#8e8e8e" stroke-width="1"/>
<line x1="231.9" y1="403.98" x2="233.4" y2="403.98" stroke="#8e8e8e" stroke-width="1"/>
<line x1="233.4" y1="480.3" x2="233.4" y2="482.8" stroke="#8e8e8e" stroke-width="1"/>
<text x="230.85" y="491.5" font-size="10.3" textLength="5.1" lengthAdjust="spacingAndGlyphs" fill="#141414" stroke="#141414" stroke-width="0.25">0</text>
<line x1="249.29" y1="480.3" x2="249.29" y2="481.8" stroke="#8e8e8e" stroke-width="1"/>
<line x1="265.18" y1="480.3" x2="265.18" y2="482.8" stroke="#8e8e8e" stroke-width="1"/>
<text x="262.63" y="491.5" font-size="10.3" textLength="5.1" lengthAdjust="spacingAndGlyphs" fill="#141414" stroke="#141414" stroke-width="0.25">2</text>
<line x1="281.07" y1="480.3" x2="281.07" y2="481.8" stroke="#8e8e8e" stroke-width="1"/>
<line x1="296.96" y1="480.3" x2="296.96" y2="482.8" stroke="#8e8e8e" stroke-width="1"/>
<text x="294.44" y="491.5" font-size="10.3" textLength="5.1" lengthAdjust="spacingAndGlyphs" fill="#141414" stroke="#141414" stroke-width="0.25">4</text>
<line x1="312.85" y1="480.3" x2="312.85" y2="481.8" stroke="#8e8e8e" stroke-width="1"/>
<line x1="328.74" y1="480.3" x2="328.74" y2="482.8" stroke="#8e8e8e" stroke-width="1"/>
<text x="326.16" y="491.5" font-size="10.3" textLength="5.1" lengthAdjust="spacingAndGlyphs" fill="#141414" stroke="#141414" stroke-width="0.25">6</text>
<line x1="344.63" y1="480.3" x2="344.63" y2="481.8" stroke="#8e8e8e" stroke-width="1"/>
<line x1="360.52" y1="480.3" x2="360.52" y2="482.8" stroke="#8e8e8e" stroke-width="1"/>
<text x="357.97" y="491.5" font-size="10.3" textLength="5.1" lengthAdjust="spacingAndGlyphs" fill="#141414" stroke="#141414" stroke-width="0.25">8</text>
<polyline points="233.4,469.45 265.18,470.46 296.96,447.06 344.63,427.72" fill="none" stroke="#111" stroke-width="1.25" stroke-linejoin="round" stroke-dasharray="6.5,2,1.5,2"/>
<circle cx="233.4" cy="469.45" r="1.6" fill="#000"/>
<circle cx="265.18" cy="470.46" r="1.6" fill="#000"/>
<circle cx="296.96" cy="447.06" r="1.6" fill="#000"/>
<circle cx="344.63" cy="427.72" r="1.6" fill="#000"/>
<polyline points="233.4,469.45 265.18,468.43 296.96,437.9 344.63,443.5" fill="none" stroke="#111" stroke-width="1.25" stroke-linejoin="round" stroke-dasharray="2.4,1.6"/>
<line x1="344.63" y1="439.6" x2="344.63" y2="447.4" stroke="#666" stroke-width="0.8"/>
<line x1="343.13" y1="439.6" x2="346.13" y2="439.6" stroke="#666" stroke-width="0.8"/>
<line x1="343.13" y1="447.4" x2="346.13" y2="447.4" stroke="#666" stroke-width="0.8"/>
<path d="M231.8,470.65 L233.4,467.85 L235,470.65 Z" fill="#fff" stroke="#333" stroke-width="0.8"/>
<path d="M263.58,469.63 L265.18,466.83 L266.78,469.63 Z" fill="#fff" stroke="#333" stroke-width="0.8"/>
<path d="M295.36,439.1 L296.96,436.3 L298.56,439.1 Z" fill="#fff" stroke="#333" stroke-width="0.8"/>
<path d="M343.03,444.7 L344.63,441.9 L346.23,444.7 Z" fill="#fff" stroke="#333" stroke-width="0.8"/>
<polyline points="233.4,469.45 265.18,468.77 296.96,451.47 344.63,427.38" fill="none" stroke="#111" stroke-width="1.25" stroke-linejoin="round"/>
<line x1="344.63" y1="419.75" x2="344.63" y2="435.02" stroke="#666" stroke-width="0.8"/>
<line x1="343.13" y1="419.75" x2="346.13" y2="419.75" stroke="#666" stroke-width="0.8"/>
<line x1="343.13" y1="435.02" x2="346.13" y2="435.02" stroke="#666" stroke-width="0.8"/>
<circle cx="233.4" cy="469.45" r="1.6" fill="#fff" stroke="#222" stroke-width="0.9"/>
<circle cx="265.18" cy="468.77" r="1.6" fill="#fff" stroke="#222" stroke-width="0.9"/>
<circle cx="296.96" cy="451.47" r="1.6" fill="#fff" stroke="#222" stroke-width="0.9"/>
<circle cx="344.63" cy="427.38" r="1.6" fill="#fff" stroke="#222" stroke-width="0.9"/>
<text x="331.79" y="409.4" font-size="11.05" textLength="23.87" lengthAdjust="spacingAndGlyphs" fill="#141414" stroke="#141414" stroke-width="0.25">NB4</text>
<text x="286.98" y="502" font-size="10.17" textLength="22.78" lengthAdjust="spacingAndGlyphs" fill="#141414" stroke="#141414" stroke-width="0.25">Days</text>
<line x1="240.2" y1="403.7" x2="252.8" y2="403.7" stroke="#111" stroke-width="1.2"/>
<circle cx="246.5" cy="403.7" r="1.4" fill="#fff" stroke="#222" stroke-width="0.9"/>
<text x="254.1" y="406.1" font-size="6.9" textLength="10.11" lengthAdjust="spacingAndGlyphs" fill="#141414">RA</text>
<line x1="240.2" y1="414.4" x2="252.8" y2="414.4" stroke="#111" stroke-width="1.2" stroke-dasharray="2.4,1.6"/>
<path d="M245.1,415.45 L246.5,413 L247.9,415.45 Z" fill="#fff" stroke="#333" stroke-width="0.8"/>
<text x="254.55" y="416.8" font-size="6.9" textLength="17.05" lengthAdjust="spacingAndGlyphs" fill="#141414">TNF&#945;</text>
<line x1="240.2" y1="424.5" x2="249.7" y2="424.5" stroke="#111" stroke-width="1.2"/>
<line x1="251.7" y1="424.5" x2="252.8" y2="424.5" stroke="#111" stroke-width="1.2"/>
<circle cx="247.3" cy="424.5" r="1.4" fill="#000"/>
<text x="254.13" y="426.9" font-size="6.9" fill="#141414">RA+TNF&#945;</text>
<text x="212.7" y="475.42" font-size="12.2" textLength="77.68" lengthAdjust="spacingAndGlyphs" transform="rotate(-90 212.7 475.42)" fill="#141414" stroke="#141414" stroke-width="0.25">Annexin V (%)</text>
<rect x="389.3" y="395.7" width="126.5" height="84.7" fill="none" stroke="#8e8e8e" stroke-width="1.25"/>
<text x="386.6" y="483.65" font-size="10.3" text-anchor="end" fill="#141414" stroke="#141414" stroke-width="0.25">0</text>
<line x1="386.8" y1="480.4" x2="389.3" y2="480.4" stroke="#8e8e8e" stroke-width="1"/>
<text x="386.6" y="466.71" font-size="10.3" text-anchor="end" fill="#141414" stroke="#141414" stroke-width="0.25">10</text>
<line x1="386.8" y1="463.46" x2="389.3" y2="463.46" stroke="#8e8e8e" stroke-width="1"/>
<text x="386.6" y="449.77" font-size="10.3" text-anchor="end" fill="#141414" stroke="#141414" stroke-width="0.25">20</text>
<line x1="386.8" y1="446.52" x2="389.3" y2="446.52" stroke="#8e8e8e" stroke-width="1"/>
<text x="386.6" y="432.83" font-size="10.3" text-anchor="end" fill="#141414" stroke="#141414" stroke-width="0.25">30</text>
<line x1="386.8" y1="429.58" x2="389.3" y2="429.58" stroke="#8e8e8e" stroke-width="1"/>
<text x="386.6" y="415.89" font-size="10.3" text-anchor="end" fill="#141414" stroke="#141414" stroke-width="0.25">40</text>
<line x1="386.8" y1="412.64" x2="389.3" y2="412.64" stroke="#8e8e8e" stroke-width="1"/>
<text x="386.6" y="398.95" font-size="10.3" text-anchor="end" fill="#141414" stroke="#141414" stroke-width="0.25">50</text>
<line x1="386.8" y1="395.7" x2="389.3" y2="395.7" stroke="#8e8e8e" stroke-width="1"/>
<line x1="387.8" y1="471.93" x2="389.3" y2="471.93" stroke="#8e8e8e" stroke-width="1"/>
<line x1="387.8" y1="454.99" x2="389.3" y2="454.99" stroke="#8e8e8e" stroke-width="1"/>
<line x1="387.8" y1="438.05" x2="389.3" y2="438.05" stroke="#8e8e8e" stroke-width="1"/>
<line x1="387.8" y1="421.11" x2="389.3" y2="421.11" stroke="#8e8e8e" stroke-width="1"/>
<line x1="387.8" y1="404.17" x2="389.3" y2="404.17" stroke="#8e8e8e" stroke-width="1"/>
<line x1="389.3" y1="480.4" x2="389.3" y2="482.9" stroke="#8e8e8e" stroke-width="1"/>
<text x="386.75" y="491.6" font-size="10.3" textLength="5.1" lengthAdjust="spacingAndGlyphs" fill="#141414" stroke="#141414" stroke-width="0.25">0</text>
<line x1="405.11" y1="480.4" x2="405.11" y2="481.9" stroke="#8e8e8e" stroke-width="1"/>
<line x1="420.92" y1="480.4" x2="420.92" y2="482.9" stroke="#8e8e8e" stroke-width="1"/>
<text x="418.37" y="491.6" font-size="10.3" textLength="5.1" lengthAdjust="spacingAndGlyphs" fill="#141414" stroke="#141414" stroke-width="0.25">2</text>
<line x1="436.73" y1="480.4" x2="436.73" y2="481.9" stroke="#8e8e8e" stroke-width="1"/>
<line x1="452.54" y1="480.4" x2="452.54" y2="482.9" stroke="#8e8e8e" stroke-width="1"/>
<text x="450.02" y="491.6" font-size="10.3" textLength="5.1" lengthAdjust="spacingAndGlyphs" fill="#141414" stroke="#141414" stroke-width="0.25">4</text>
<line x1="468.35" y1="480.4" x2="468.35" y2="481.9" stroke="#8e8e8e" stroke-width="1"/>
<line x1="484.16" y1="480.4" x2="484.16" y2="482.9" stroke="#8e8e8e" stroke-width="1"/>
<text x="481.58" y="491.6" font-size="10.3" textLength="5.1" lengthAdjust="spacingAndGlyphs" fill="#141414" stroke="#141414" stroke-width="0.25">6</text>
<line x1="499.97" y1="480.4" x2="499.97" y2="481.9" stroke="#8e8e8e" stroke-width="1"/>
<line x1="515.78" y1="480.4" x2="515.78" y2="482.9" stroke="#8e8e8e" stroke-width="1"/>
<text x="513.23" y="491.6" font-size="10.3" textLength="5.1" lengthAdjust="spacingAndGlyphs" fill="#141414" stroke="#141414" stroke-width="0.25">8</text>
<polyline points="389.3,472.78 420.92,469.73 452.54,459.73 499.97,467.36" fill="none" stroke="#111" stroke-width="1.25" stroke-linejoin="round" stroke-dasharray="6.5,2,1.5,2"/>
<circle cx="389.3" cy="472.78" r="1.6" fill="#000"/>
<circle cx="420.92" cy="469.73" r="1.6" fill="#000"/>
<circle cx="452.54" cy="459.73" r="1.6" fill="#000"/>
<circle cx="499.97" cy="467.36" r="1.6" fill="#000"/>
<polyline points="389.3,472.78 420.92,469.73 452.54,459.39 499.97,467.36" fill="none" stroke="#111" stroke-width="1.25" stroke-linejoin="round" stroke-dasharray="2.4,1.6"/>
<line x1="452.54" y1="455.33" x2="452.54" y2="463.46" stroke="#666" stroke-width="0.8"/>
<line x1="451.04" y1="455.33" x2="454.04" y2="455.33" stroke="#666" stroke-width="0.8"/>
<line x1="451.04" y1="463.46" x2="454.04" y2="463.46" stroke="#666" stroke-width="0.8"/>
<path d="M387.7,473.98 L389.3,471.18 L390.9,473.98 Z" fill="#fff" stroke="#333" stroke-width="0.8"/>
<path d="M419.32,470.93 L420.92,468.13 L422.52,470.93 Z" fill="#fff" stroke="#333" stroke-width="0.8"/>
<path d="M450.94,460.59 L452.54,457.79 L454.14,460.59 Z" fill="#fff" stroke="#333" stroke-width="0.8"/>
<path d="M498.37,468.56 L499.97,465.76 L501.57,468.56 Z" fill="#fff" stroke="#333" stroke-width="0.8"/>
<polyline points="389.3,472.78 420.92,473.29 452.54,465.83 499.97,461.94" fill="none" stroke="#111" stroke-width="1.25" stroke-linejoin="round"/>
<circle cx="389.3" cy="472.78" r="1.6" fill="#fff" stroke="#222" stroke-width="0.9"/>
<circle cx="420.92" cy="473.29" r="1.6" fill="#fff" stroke="#222" stroke-width="0.9"/>
<circle cx="452.54" cy="465.83" r="1.6" fill="#fff" stroke="#222" stroke-width="0.9"/>
<circle cx="499.97" cy="461.94" r="1.6" fill="#fff" stroke="#222" stroke-width="0.9"/>
<text x="466.49" y="410" font-size="10.31" textLength="43.73" lengthAdjust="spacingAndGlyphs" fill="#141414" stroke="#141414" stroke-width="0.25">NB4-R2</text>
<text x="442.16" y="502" font-size="10.17" textLength="23.31" lengthAdjust="spacingAndGlyphs" fill="#141414" stroke="#141414" stroke-width="0.25">Days</text>
</svg>
</body></html>
